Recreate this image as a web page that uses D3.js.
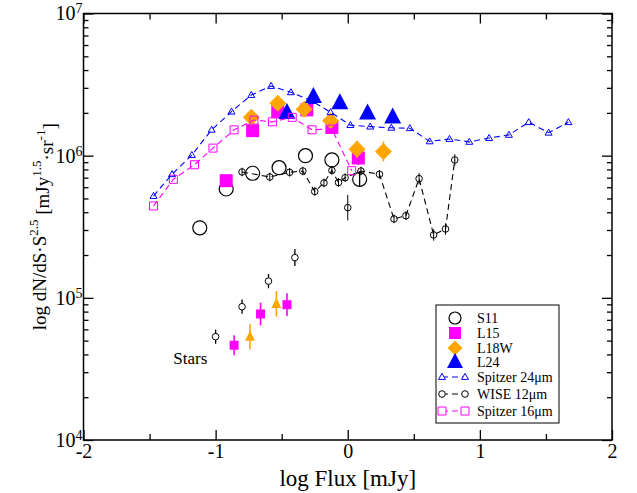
<!DOCTYPE html>
<html>
<head>
<meta charset="utf-8">
<script src="https://cdn.jsdelivr.net/npm/d3@7"></script>
<style>
body { margin: 0; background: #fff; }
text { font-family: "Liberation Serif", "DejaVu Serif", serif; }
</style>
</head>
<body>
<div id="chart"></div>
<script>
// set the dimensions and margins of the graph
var margin = {top: 13.5, right: 25, bottom: 53, left: 83.5},
    width = 637 - margin.left - margin.right,
    height = 493 - margin.top - margin.bottom;

// Spitzer 24um counts (blue dashed line, open triangles)
var sp24_x = [-1.47, -1.33, -1.18, -1.03, -0.88, -0.73, -0.58, -0.43, -0.27, -0.13, 0.02, 0.17, 0.33, 0.47, 0.62, 0.77, 0.92, 1.07, 1.22, 1.37, 1.52, 1.67];
var sp24_y = [5.2e5, 7.4e5, 1.01e6, 1.52e6, 2.04e6, 2.67e6, 3.09e6, 2.79e6, 2.42e6, 2.02e6, 1.64e6, 1.60e6, 1.57e6, 1.56e6, 1.26e6, 1.31e6, 1.25e6, 1.33e6, 1.40e6, 1.72e6, 1.45e6, 1.72e6];

// Spitzer 16um counts (magenta dashed line, open squares)
var sp16_x = [-1.47, -1.32, -1.16, -1.02, -0.86, -0.71, -0.57, -0.42, -0.27, -0.12, 0.03];
var sp16_y = [4.43e5, 6.82e5, 8.63e5, 1.13e6, 1.52e6, 1.78e6, 1.73e6, 1.86e6, 1.52e6, 1.54e6, 7.84e5];

// WISE 12um counts (black dashed line, open circles)
var wise_x = [-0.80, -0.59, -0.44, -0.34, -0.25, -0.18, -0.12, -0.07, -0.02, 0.10, 0.24, 0.35, 0.44, 0.54, 0.65, 0.74, 0.81];
var wise_y = [7.68e5, 7.08e5, 7.64e5, 7.80e5, 5.60e5, 6.43e5, 7.87e5, 6.48e5, 7.00e5, 7.80e5, 7.40e5, 3.59e5, 3.78e5, 6.89e5, 2.77e5, 3.05e5, 9.33e5];
var wise_err = [0.03, 0.03, 0.03, 0.03, 0.03, 0.03, 0.03, 0.03, 0.03, 0.03, 0.03, 0.03, 0.03, 0.04, 0.04, 0.04, 0.04];
// single WISE point off the line
var wiseOdd_x = [0.0];
var wiseOdd_y = [4.31e5];
var wiseOdd_err = [0.09];

// star counts
var starWise_x = [-1.0, -0.8, -0.6, -0.4];
var starWise_y = [5.33e4, 8.66e4, 1.31e5, 1.92e5];
var starWise_err = [0.05, 0.05, 0.05, 0.06];
var starL15_x = [-0.86, -0.66, -0.46];
var starL15_y = [4.64e4, 7.70e4, 8.95e4];
var starL15_err = [0.07, 0.08, 0.08];
var starL18_x = [-0.74, -0.54];
var starL18_y = [5.33e4, 9.06e4];
var starL18_err = [0.09, 0.09];

// S11 (open circles)
var s11_x = [-1.12, -0.92, -0.72, -0.52, -0.32, -0.12, 0.09];
var s11_y = [3.11e5, 5.83e5, 7.52e5, 8.23e5, 1.00e6, 9.33e5, 6.82e5];
var s11_err = [0, 0, 0, 0, 0, 0, 0.05];

// L15 (filled squares)
var l15_x = [-0.92, -0.72, -0.53, -0.31, -0.12, 0.08];
var l15_y = [6.67e5, 1.50e6, 2.04e6, 2.10e6, 1.58e6, 9.63e5];
var l15_err = [0, 0, 0, 0, 0, 0.05];

// L18W (filled diamonds)
var l18_x = [-0.73, -0.53, -0.33, -0.13, 0.07, 0.27];
var l18_y = [1.86e6, 2.34e6, 2.12e6, 1.76e6, 1.11e6, 1.07e6];
var l18_err = [0, 0, 0, 0, 0.06, 0.07];

// L24 (filled triangles)
var l24_x = [-0.46, -0.26, -0.06, 0.15, 0.34];
var l24_y = [2.01e6, 2.60e6, 2.35e6, 1.99e6, 1.87e6];
var l24_err = [0, 0, 0, 0.03, 0.03];

// ticks
var xMajor = [-2, -1, 0, 1, 2];
var xMinor = [-1.5, -0.5, 0.5, 1.5];
var yMajor = [1e4, 1e5, 1e6, 1e7];

var zip = function (xs, ys, es) {
    return xs.map(function (v, i) { return {x: v, y: ys[i], e: es ? es[i] : 0}; });
};

var svg = d3.select("#chart")
    .append("svg")
    .attr("width", width + margin.left + margin.right)
    .attr("height", height + margin.top + margin.bottom)
    .append("g")
    .attr("transform", "translate(" + margin.left + "," + margin.top + ")");

var x = d3.scaleLinear().domain([-2, 2]).range([0, width]);
var y = d3.scaleLog().domain([1e4, 1e7]).range([height, 0]);
var yMinor = y.ticks().filter(function (d) { return yMajor.indexOf(d) < 0; });

// axes, ticks pointing inward
function styleAxis(g) {
    g.select(".domain").remove();
    g.selectAll(".tick line").attr("stroke", "black").attr("stroke-width", 1.3);
}

svg.append("g")
    .attr("transform", "translate(0," + height + ")")
    .call(d3.axisBottom(x).tickValues(xMajor).tickSize(-10).tickPadding(4)
        .tickFormat(function (d) { return String(d); }))
    .call(styleAxis)
    .selectAll("text")
    .style("font-family", "Liberation Serif")
    .style("font-size", "20px")
    .attr("fill", "black");
svg.append("g")
    .attr("transform", "translate(0," + height + ")")
    .call(d3.axisBottom(x).tickValues(xMinor).tickSize(-6).tickFormat(""))
    .call(styleAxis);
svg.append("g")
    .call(d3.axisTop(x).tickValues(xMajor).tickSize(-10).tickFormat(""))
    .call(styleAxis);
svg.append("g")
    .call(d3.axisTop(x).tickValues(xMinor).tickSize(-6).tickFormat(""))
    .call(styleAxis);

svg.append("g")
    .call(d3.axisLeft(y).tickValues(yMajor).tickSize(-10).tickPadding(1))
    .call(styleAxis)
    .selectAll(".tick text")
    .attr("fill", "black")
    .style("font-family", "Liberation Serif")
    .style("font-size", "20px")
    .each(function (d) {
        var t = d3.select(this);
        t.text(null);
        t.append("tspan").text("10");
        t.append("tspan").attr("dy", "-0.5em").style("font-size", "14px")
            .text(Math.round(Math.log10(d)));
    });
svg.append("g")
    .call(d3.axisLeft(y).tickValues(yMinor).tickSize(-5).tickFormat(""))
    .call(styleAxis);
svg.append("g")
    .attr("transform", "translate(" + width + ",0)")
    .call(d3.axisRight(y).tickValues(yMajor).tickSize(-10).tickFormat(""))
    .call(styleAxis);
svg.append("g")
    .attr("transform", "translate(" + width + ",0)")
    .call(d3.axisRight(y).tickValues(yMinor).tickSize(-5).tickFormat(""))
    .call(styleAxis);

// frame
svg.append("rect")
    .attr("width", width).attr("height", height)
    .attr("fill", "none").attr("stroke", "black").attr("stroke-width", 1.5);

// axis titles
svg.append("text")
    .attr("x", width / 2).attr("y", height + 46)
    .attr("text-anchor", "middle")
    .style("font-size", "23px")
    .text("log Flux [mJy]");

var yt = svg.append("text")
    .attr("transform", "translate(" + (-38) + "," + (height / 2) + ") rotate(-90)")
    .attr("text-anchor", "middle")
    .style("font-size", "19px");
yt.append("tspan").text("log dN/dS\u00b7S");
yt.append("tspan").attr("dy", "-0.6em").style("font-size", "13px").text("2.5");
yt.append("tspan").attr("dy", "0.6em").text("  [mJy");
yt.append("tspan").attr("dy", "-0.6em").style("font-size", "13px").text("1.5");
yt.append("tspan").attr("dy", "0.6em").text("\u00b7sr");
yt.append("tspan").attr("dy", "-0.6em").style("font-size", "13px").text("-1");
yt.append("tspan").attr("dy", "0.6em").text("]");

// marker shapes
function squarePath(s) { return "M" + (-s) + "," + (-s) + "H" + s + "V" + s + "H" + (-s) + "Z"; }
function diamondPath(s) { return "M0," + (-s) + "L" + s + ",0L0," + s + "L" + (-s) + ",0Z"; }
function trianglePath(w, h) { return "M0," + (-h * 0.6) + "L" + (w / 2) + "," + (h * 0.4) + "L" + (-w / 2) + "," + (h * 0.4) + "Z"; }

function errBars(data, color, width) {
    svg.append("g").selectAll("line")
        .data(data.filter(function (d) { return d.e > 0; }))
        .enter()
        .append("line")
        .attr("x1", function (d) { return x(d.x); })
        .attr("x2", function (d) { return x(d.x); })
        .attr("y1", function (d) { return y(d.y * Math.pow(10, -d.e)); })
        .attr("y2", function (d) { return y(d.y * Math.pow(10, d.e)); })
        .attr("stroke", color)
        .attr("stroke-width", width || 1.3);
}

function markers(data, path, fill, stroke, sw) {
    svg.append("g").selectAll("path")
        .data(data)
        .enter()
        .append("path")
        .attr("d", path)
        .attr("transform", function (d) { return "translate(" + x(d.x) + "," + y(d.y) + ")"; })
        .attr("fill", fill)
        .attr("stroke", stroke)
        .attr("stroke-width", sw || 1);
}

function circlePath(r) { return d3.symbol().type(d3.symbolCircle).size(Math.PI * r * r)(); }

var line = d3.line()
    .x(function (d) { return x(d.x); })
    .y(function (d) { return y(d.y); });

// big markers (earlier counts)
var s11 = zip(s11_x, s11_y, s11_err);
errBars(s11, "black");
markers(s11, circlePath(7), "none", "black", 1.2);

var l15 = zip(l15_x, l15_y, l15_err);
errBars(l15, "#ff00ff", 1.6);
markers(l15, squarePath(6.5), "#ff00ff", "none");

var l18 = zip(l18_x, l18_y, l18_err);
errBars(l18, "#ffa500", 1.6);
markers(l18, diamondPath(8.5), "#ffa500", "none");

var l24 = zip(l24_x, l24_y, l24_err);
errBars(l24, "#0000ff", 1.6);
markers(l24, trianglePath(17, 16), "#0000ff", "none");

// stars
var sW = zip(starWise_x, starWise_y, starWise_err);
errBars(sW, "black");
markers(sW, circlePath(3.3), "white", "black", 1);
var sL15 = zip(starL15_x, starL15_y, starL15_err);
errBars(sL15, "#ff00ff", 1.6);
markers(sL15, squarePath(4.5), "#ff00ff", "none");
var sL18 = zip(starL18_x, starL18_y, starL18_err);
errBars(sL18, "#ffa500", 1.6);
markers(sL18, trianglePath(10, 10), "#ffa500", "none");

svg.append("text")
    .attr("x", x(-1.32)).attr("y", y(3.4e4))
    .style("font-size", "17px")
    .text("Stars");

// dashed count lines
var wise = zip(wise_x, wise_y, wise_err);
svg.append("path").datum(wise)
    .attr("d", line).attr("fill", "none")
    .attr("stroke", "black").attr("stroke-width", 1.1).attr("stroke-dasharray", "6,4");
errBars(wise, "black", 1);
markers(wise, circlePath(3.3), "none", "black", 1);
var wOdd = zip(wiseOdd_x, wiseOdd_y, wiseOdd_err);
errBars(wOdd, "black", 1);
markers(wOdd, circlePath(3.3), "none", "black", 1);

var sp16 = zip(sp16_x, sp16_y);
svg.append("path").datum(sp16)
    .attr("d", line).attr("fill", "none")
    .attr("stroke", "#ff00ff").attr("stroke-width", 1.1).attr("stroke-dasharray", "6,4");
markers(sp16, squarePath(4), "none", "#ff00ff", 1);

var sp24 = zip(sp24_x, sp24_y);
svg.append("path").datum(sp24)
    .attr("d", line).attr("fill", "none")
    .attr("stroke", "#0000ff").attr("stroke-width", 1.1).attr("stroke-dasharray", "6,4");
markers(sp24, trianglePath(7, 6), "none", "#0000ff", 1);

// legend
var lg = svg.append("g").attr("transform", "translate(" + (436 - margin.left) + "," + (305 - margin.top) + ")");
lg.append("rect").attr("width", 123).attr("height", 118)
    .attr("fill", "white").attr("stroke", "black").attr("stroke-width", 1);

var legendItems = [
    {label: "S11", y: 13, shape: circlePath(6), fill: "none", stroke: "black"},
    {label: "L15", y: 28, shape: squarePath(6), fill: "#ff00ff", stroke: "none"},
    {label: "L18W", y: 43, shape: diamondPath(7.5), fill: "#ffa500", stroke: "none"},
    {label: "L24", y: 57, shape: trianglePath(16, 15), fill: "#0000ff", stroke: "none"},
    {label: "Spitzer 24\u03bcm", y: 72, shape: trianglePath(7, 6), fill: "none", stroke: "#0000ff", line: true},
    {label: "WISE 12\u03bcm", y: 89, shape: circlePath(3.3), fill: "none", stroke: "black", line: true},
    {label: "Spitzer 16\u03bcm", y: 106, shape: squarePath(4), fill: "none", stroke: "#ff00ff", line: true}
];

legendItems.forEach(function (it) {
    if (it.line) {
        lg.append("line").attr("x1", 6).attr("x2", 29).attr("y1", it.y).attr("y2", it.y)
            .attr("stroke", it.stroke).attr("stroke-width", 1.1).attr("stroke-dasharray", "6,4");
        [6, 29].forEach(function (px) {
            lg.append("path").attr("d", it.shape)
                .attr("transform", "translate(" + px + "," + it.y + ")")
                .attr("fill", "white").attr("stroke", it.stroke);
        });
    } else {
        lg.append("path").attr("d", it.shape)
            .attr("transform", "translate(19," + it.y + ")")
            .attr("fill", it.fill).attr("stroke", it.stroke).attr("stroke-width", 1.2);
    }
    lg.append("text").attr("x", 41).attr("y", it.y).attr("dy", "0.35em")
        .style("font-size", "14px").text(it.label);
});
</script>
</body>
</html>
